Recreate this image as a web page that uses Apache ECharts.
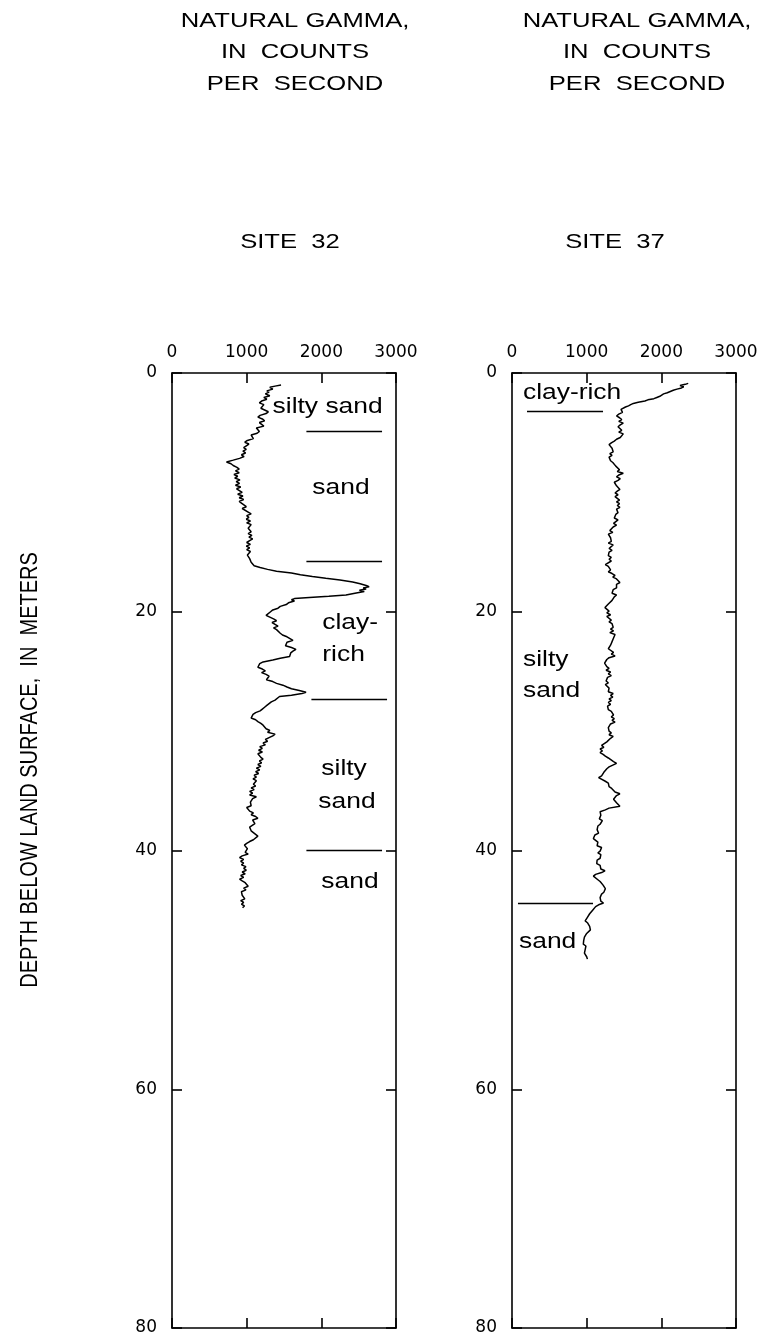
<!DOCTYPE html>
<html>
<head>
<meta charset="utf-8">
<script src="https://cdn.jsdelivr.net/npm/echarts@6/dist/echarts.min.js"></script>
<style>
  html, body { margin: 0; padding: 0; background: #fff; }
  #chart { width: 767px; height: 1342px; }
</style>
</head>
<body>
<div id="chart"></div>
<script>
// 坐标轴刻度
const gammaTicks = [0, 1000, 2000, 3000]
const depthTicks = [0, 20, 40, 60, 80]

// SITE 32 伽马测井 [depth m, counts per second]
const site32Log = [
  [1.0, 1460], [1.1, 1380], [1.2, 1310], [1.35, 1350], [1.5, 1270], [1.6, 1300], [1.75, 1250], [1.9, 1310], [2.05, 1230], [2.2, 1270],
  [2.35, 1200], [2.5, 1170], [2.65, 1230], [2.8, 1250], [2.95, 1190], [3.1, 1215], [3.25, 1290], [3.4, 1260], [3.55, 1180], [3.7, 1150],
  [3.85, 1210], [4.0, 1240], [4.15, 1170], [4.3, 1190], [4.45, 1230], [4.6, 1130], [4.75, 1110], [4.9, 1170], [5.05, 1140], [5.2, 1060],
  [5.35, 1040], [5.5, 1090], [5.65, 1010], [5.8, 975], [5.95, 1030], [6.1, 1010], [6.25, 960], [6.4, 995], [6.55, 950], [6.7, 985],
  [6.85, 930], [7.0, 965], [7.15, 905], [7.3, 820], [7.45, 730], [7.6, 790], [7.75, 820], [7.9, 870], [8.05, 900], [8.2, 850],
  [8.35, 900], [8.5, 830], [8.65, 880], [8.8, 840], [8.95, 910], [9.1, 860], [9.25, 905], [9.4, 850], [9.55, 920], [9.7, 865],
  [9.85, 890], [10.0, 940], [10.15, 880], [10.3, 950], [10.45, 900], [10.6, 960], [10.75, 900], [10.9, 930], [11.05, 905], [11.2, 995],
  [11.35, 940], [11.5, 960], [11.65, 1020], [11.8, 1060], [11.95, 1000], [12.1, 1030], [12.25, 995], [12.4, 1050], [12.55, 1000], [12.7, 1060],
  [12.85, 1085], [13.0, 1020], [13.15, 1000], [13.3, 1060], [13.45, 1020], [13.6, 1070], [13.75, 1030], [13.9, 1080], [14.05, 1040], [14.2, 1000],
  [14.35, 1050], [14.5, 995], [14.65, 1040], [14.8, 1000], [14.95, 1050], [15.1, 1060], [15.25, 1010], [15.4, 1000], [15.55, 1040], [15.7, 1020],
  [15.85, 1060], [16.0, 1070], [16.15, 1100], [16.3, 1180], [16.45, 1280], [16.6, 1400], [16.75, 1600], [16.9, 1720], [17.05, 1880], [17.2, 2060],
  [17.35, 2250], [17.5, 2420], [17.65, 2520], [17.8, 2600], [17.9, 2640], [18.0, 2560], [18.1, 2600], [18.2, 2510], [18.3, 2575], [18.45, 2450],
  [18.6, 2330], [18.7, 2100], [18.8, 1840], [18.9, 1640], [19.0, 1600], [19.1, 1640], [19.25, 1560], [19.4, 1530], [19.55, 1450], [19.7, 1420],
  [19.85, 1350], [20.0, 1320], [20.15, 1300], [20.3, 1260], [20.45, 1270], [20.6, 1360], [20.75, 1400], [20.9, 1340], [21.05, 1380], [21.2, 1420],
  [21.35, 1360], [21.5, 1400], [21.65, 1375], [21.8, 1450], [21.95, 1480], [22.1, 1540], [22.25, 1580], [22.4, 1620], [22.55, 1540], [22.7, 1560],
  [22.85, 1520], [23.0, 1600], [23.15, 1660], [23.3, 1620], [23.45, 1590], [23.6, 1600], [23.75, 1575], [23.9, 1450], [24.05, 1350], [24.2, 1220],
  [24.35, 1175], [24.5, 1200], [24.65, 1150], [24.8, 1210], [24.95, 1250], [25.1, 1200], [25.25, 1260], [25.4, 1300], [25.55, 1280], [25.7, 1265],
  [25.85, 1350], [26.0, 1400], [26.15, 1485], [26.3, 1540], [26.45, 1600], [26.6, 1705], [26.75, 1795], [26.85, 1740], [27.0, 1600], [27.1, 1440],
  [27.25, 1420], [27.4, 1380], [27.55, 1330], [27.7, 1310], [27.85, 1270], [28.0, 1240], [28.15, 1210], [28.3, 1180], [28.45, 1120], [28.6, 1085],
  [28.75, 1100], [28.9, 1060], [29.05, 1120], [29.2, 1150], [29.35, 1190], [29.5, 1220], [29.65, 1200], [29.8, 1260], [29.95, 1310], [30.1, 1280],
  [30.25, 1380], [30.4, 1350], [30.55, 1300], [30.7, 1250], [30.85, 1280], [31.0, 1220], [31.15, 1250], [31.3, 1175], [31.45, 1210], [31.6, 1160],
  [31.75, 1210], [31.9, 1150], [32.05, 1130], [32.2, 1190], [32.35, 1220], [32.5, 1170], [32.65, 1200], [32.8, 1150], [32.95, 1190], [33.1, 1130],
  [33.25, 1175], [33.4, 1120], [33.55, 1160], [33.7, 1100], [33.85, 1130], [34.0, 1085], [34.15, 1130], [34.3, 1150], [34.45, 1090], [34.6, 1120],
  [34.75, 1060], [34.9, 1100], [35.05, 1040], [35.2, 1080], [35.35, 1040], [35.5, 1130], [35.65, 1080], [35.8, 1105], [35.95, 1050], [36.1, 1030],
  [36.25, 1060], [36.4, 1000], [36.55, 995], [36.7, 1040], [36.85, 1090], [37.0, 1060], [37.15, 1120], [37.3, 1150], [37.45, 1080], [37.6, 1060],
  [37.75, 1110], [37.9, 1100], [38.05, 1040], [38.2, 1020], [38.35, 1060], [38.5, 1090], [38.65, 1110], [38.8, 1150], [38.95, 1175], [39.1, 1090],
  [39.25, 1040], [39.4, 1000], [39.55, 970], [39.7, 950], [39.85, 1010], [40.0, 1030], [40.15, 980], [40.3, 1020], [40.45, 940], [40.6, 905],
  [40.75, 960], [40.9, 920], [41.05, 960], [41.2, 930], [41.35, 990], [41.5, 960], [41.65, 995], [41.8, 940], [41.95, 980], [42.1, 920],
  [42.25, 960], [42.4, 905], [42.55, 940], [42.7, 980], [42.85, 1000], [43.0, 1020], [43.15, 960], [43.3, 990], [43.45, 930], [43.6, 905],
  [43.75, 940], [43.9, 960], [44.05, 975], [44.2, 920], [44.35, 960], [44.5, 930], [44.65, 970], [44.8, 945]
]

// SITE 37 伽马测井 [depth m, counts per second]
const site37Log = [
  [0.87, 2360], [0.95, 2320], [1.05, 2250], [1.15, 2300], [1.25, 2270], [1.35, 2210], [1.45, 2160], [1.55, 2180], [1.65, 2080], [1.75, 2030],
  [1.85, 2050], [1.95, 1980], [2.05, 1940], [2.15, 1900], [2.25, 1820], [2.35, 1780], [2.45, 1690], [2.55, 1625], [2.65, 1590], [2.75, 1560],
  [2.85, 1520], [2.95, 1500], [3.05, 1460], [3.15, 1445], [3.3, 1480], [3.45, 1430], [3.6, 1400], [3.75, 1440], [3.9, 1470], [4.05, 1430],
  [4.2, 1490], [4.35, 1450], [4.5, 1420], [4.65, 1440], [4.8, 1470], [4.95, 1430], [5.1, 1490], [5.25, 1515], [5.4, 1450], [5.55, 1400],
  [5.7, 1370], [5.85, 1330], [6.0, 1300], [6.15, 1290], [6.3, 1340], [6.45, 1320], [6.6, 1355], [6.75, 1310], [6.9, 1340], [7.05, 1300],
  [7.2, 1290], [7.35, 1320], [7.5, 1350], [7.65, 1330], [7.8, 1390], [7.95, 1400], [8.1, 1440], [8.25, 1410], [8.4, 1490], [8.55, 1430],
  [8.7, 1400], [8.85, 1450], [9.0, 1420], [9.15, 1370], [9.3, 1355], [9.45, 1400], [9.6, 1380], [9.75, 1445], [9.9, 1410], [10.05, 1380],
  [10.2, 1420], [10.35, 1380], [10.5, 1400], [10.65, 1440], [10.8, 1400], [10.95, 1440], [11.1, 1410], [11.25, 1445], [11.4, 1400], [11.55, 1380],
  [11.7, 1420], [11.85, 1390], [12.0, 1400], [12.15, 1370], [12.3, 1420], [12.45, 1390], [12.6, 1360], [12.75, 1400], [12.9, 1355], [13.05, 1330],
  [13.2, 1310], [13.35, 1350], [13.5, 1290], [13.65, 1270], [13.8, 1320], [13.95, 1300], [14.1, 1330], [14.25, 1290], [14.4, 1355], [14.55, 1330],
  [14.7, 1300], [14.85, 1340], [15.0, 1300], [15.15, 1320], [15.3, 1290], [15.45, 1330], [15.6, 1300], [15.75, 1330], [15.9, 1310], [16.05, 1250],
  [16.2, 1290], [16.35, 1270], [16.5, 1320], [16.65, 1290], [16.8, 1340], [16.95, 1380], [17.1, 1350], [17.25, 1400], [17.4, 1380], [17.55, 1445],
  [17.7, 1400], [17.85, 1380], [18.0, 1400], [18.15, 1355], [18.3, 1380], [18.45, 1340], [18.6, 1400], [18.75, 1370], [18.9, 1380], [19.05, 1340],
  [19.2, 1320], [19.35, 1290], [19.5, 1310], [19.65, 1245], [19.8, 1260], [19.95, 1300], [20.1, 1270], [20.25, 1320], [20.4, 1270], [20.55, 1290],
  [20.7, 1330], [20.85, 1300], [21.0, 1340], [21.15, 1330], [21.3, 1355], [21.45, 1320], [21.6, 1360], [21.75, 1310], [21.9, 1380], [22.05, 1400],
  [22.2, 1360], [22.35, 1380], [22.5, 1340], [22.65, 1355], [22.8, 1320], [22.95, 1335], [23.1, 1290], [23.25, 1310], [23.4, 1360], [23.55, 1330],
  [23.7, 1380], [23.85, 1300], [24.0, 1270], [24.15, 1290], [24.3, 1240], [24.45, 1225], [24.6, 1270], [24.75, 1300], [24.9, 1260], [25.05, 1320],
  [25.2, 1290], [25.35, 1330], [25.5, 1280], [25.65, 1300], [25.8, 1260], [25.95, 1290], [26.1, 1250], [26.25, 1245], [26.4, 1300], [26.55, 1320],
  [26.7, 1290], [26.85, 1355], [27.0, 1320], [27.15, 1350], [27.3, 1300], [27.45, 1330], [27.6, 1290], [27.75, 1320], [27.9, 1280], [28.05, 1300],
  [28.2, 1290], [28.35, 1330], [28.5, 1310], [28.65, 1360], [28.8, 1330], [28.95, 1370], [29.1, 1340], [29.25, 1380], [29.4, 1320], [29.55, 1340],
  [29.7, 1290], [29.85, 1270], [30.0, 1300], [30.15, 1330], [30.3, 1300], [30.45, 1355], [30.6, 1320], [30.75, 1340], [30.9, 1270], [31.05, 1290],
  [31.2, 1200], [31.35, 1230], [31.5, 1180], [31.65, 1210], [31.8, 1180], [31.95, 1220], [32.1, 1250], [32.25, 1290], [32.4, 1310], [32.55, 1360],
  [32.7, 1400], [32.85, 1350], [33.0, 1300], [33.15, 1270], [33.3, 1290], [33.45, 1230], [33.6, 1220], [33.75, 1200], [33.9, 1160], [34.05, 1135],
  [34.2, 1250], [34.35, 1290], [34.5, 1270], [34.65, 1300], [34.8, 1335], [34.95, 1320], [35.1, 1380], [35.25, 1445], [35.4, 1400], [35.55, 1380],
  [35.7, 1360], [35.85, 1355], [36.0, 1400], [36.15, 1420], [36.3, 1445], [36.45, 1300], [36.6, 1250], [36.75, 1180], [36.9, 1155], [37.05, 1190],
  [37.2, 1200], [37.35, 1170], [37.5, 1210], [37.65, 1225], [37.8, 1180], [37.95, 1150], [38.1, 1170], [38.25, 1140], [38.4, 1130], [38.55, 1160],
  [38.7, 1110], [38.85, 1120], [39.0, 1090], [39.15, 1110], [39.3, 1150], [39.45, 1170], [39.6, 1140], [39.75, 1200], [39.9, 1225], [40.05, 1180],
  [40.2, 1150], [40.35, 1190], [40.5, 1170], [40.65, 1180], [40.8, 1140], [40.95, 1160], [41.1, 1135], [41.25, 1180], [41.4, 1200], [41.55, 1190],
  [41.7, 1245], [41.85, 1200], [42.0, 1120], [42.15, 1090], [42.3, 1110], [42.45, 1150], [42.6, 1180], [42.75, 1170], [42.9, 1220], [43.05, 1200],
  [43.2, 1250], [43.35, 1270], [43.5, 1230], [43.65, 1200], [43.8, 1220], [43.95, 1180], [44.1, 1200], [44.25, 1190], [44.4, 1225], [44.55, 1160],
  [44.7, 1120], [44.85, 1140], [45.0, 1080], [45.15, 1065], [45.3, 1040], [45.45, 1060], [45.6, 1010], [45.75, 1000], [45.9, 980], [46.05, 1010],
  [46.2, 1000], [46.35, 1040], [46.5, 1020], [46.65, 1050], [46.8, 1045], [46.95, 1000], [47.1, 1010], [47.25, 970], [47.4, 990], [47.55, 960],
  [47.7, 980], [47.85, 955], [48.0, 990], [48.15, 1010], [48.3, 980], [48.45, 1000], [48.6, 970], [48.75, 985], [48.9, 1000], [49.05, 1020], [49.1, 1010]
]

// 岩性分界线 [gamma 起点, gamma 终点, depth]
const site32Bounds = [[1800, 2813, 4.9], [1800, 2813, 15.75], [1867, 2880, 27.3], [1800, 2813, 40.0]]
const site37Bounds = [[201, 1219, 3.2], [80, 1085, 44.4]]

// 岩性标注 [gamma, depth, 文本]
const site32Notes = [[1347, 2.85, 'silty sand'], [1880, 9.6, 'sand'], [2013, 20.95, 'clay-'], [2013, 23.6, 'rich'],
  [2000, 33.15, 'silty'], [1960, 35.95, 'sand'], [2000, 42.65, 'sand']]
const site37Notes = [[147, 1.65, 'clay-rich'], [147, 24.0, 'silty'], [147, 26.65, 'sand'], [94, 47.65, 'sand']]

const panels = [
  { left: 172, titleX: 295, siteX: 290, site: 'SITE  32', log: site32Log, bounds: site32Bounds, notes: site32Notes },
  { left: 512, titleX: 637, siteX: 615, site: 'SITE  37', log: site37Log, bounds: site37Bounds, notes: site37Notes }
]

const black = '#000'
const sans = '"Liberation Sans", Arial, sans-serif'

function axisBase(gridIndex) {
  return {
    gridIndex,
    type: 'value',
    axisLine: { show: true, onZero: false, lineStyle: { color: black, width: 1.6 }},
    axisTick: { show: true, inside: true, length: 10, lineStyle: { color: black, width: 1.6 }},
    splitLine: { show: false }
  }
}

const tickLabel = { show: true, color: black, fontFamily: 'DejaVu Sans', fontSize: 17, formatter: v => String(v) }

const xAxis = []
const yAxis = []
panels.forEach((p, i) => {
  const xRange = { min: gammaTicks[0], max: gammaTicks[gammaTicks.length - 1], interval: gammaTicks[1] - gammaTicks[0] }
  const yRange = { inverse: true, min: depthTicks[0], max: depthTicks[depthTicks.length - 1], interval: depthTicks[1] - depthTicks[0] }
  xAxis.push(Object.assign(axisBase(i), xRange, { position: 'top', axisLabel: Object.assign({ margin: 12 }, tickLabel) }))
  xAxis.push(Object.assign(axisBase(i), xRange, { position: 'bottom', axisLabel: { show: false }}))
  yAxis.push(Object.assign(axisBase(i), yRange, { position: 'left', axisLabel: Object.assign({ margin: 15 }, tickLabel) }))
  yAxis.push(Object.assign(axisBase(i), yRange, { position: 'right', axisLabel: { show: false }}))
})

const series = panels.map((p, i) => ({
  type: 'line',
  xAxisIndex: i * 2,
  yAxisIndex: i * 2,
  data: p.log.map(d => [d[1], d[0]]),
  showSymbol: false,
  symbol: 'none',
  silent: true,
  lineStyle: { color: black, width: 1.5 },
  markLine: {
    silent: true,
    symbol: ['none', 'none'],
    label: { show: false },
    lineStyle: { color: black, type: 'solid', width: 1.3 },
    emphasis: { disabled: true },
    data: p.bounds.map(b => [{ coord: [b[0], b[2]] }, { coord: [b[1], b[2]] }])
  }
}))

function text(x, y, str, font, extra) {
  return Object.assign({
    type: 'text',
    x, y,
    silent: true,
    style: { text: str, font, fill: black, align: 'center', verticalAlign: 'middle', textAlign: 'center', textVerticalAlign: 'middle' }
  }, extra)
}

const chart = echarts.init(document.getElementById('chart'))
chart.setOption({
  animation: false,
  backgroundColor: '#fff',
  grid: panels.map(p => ({ left: p.left, top: 373, width: 224, height: 955 })),
  xAxis,
  yAxis,
  series
})

// 标题与标注
const graphics = []
panels.forEach((p, i) => {
  const titleFont = '21px ' + sans
  graphics.push(text(p.titleX, 21, 'NATURAL GAMMA,', titleFont, { scaleX: 1.22 }))
  graphics.push(text(p.titleX, 52.5, 'IN  COUNTS', titleFont, { scaleX: 1.22 }))
  graphics.push(text(p.titleX, 84, 'PER  SECOND', titleFont, { scaleX: 1.22 }))
  graphics.push(text(p.siteX, 242, p.site, titleFont, { scaleX: 1.22 }))
  p.notes.forEach(n => {
    const pt = chart.convertToPixel({ seriesIndex: i }, [n[0], n[1]])
    const g = text(pt[0], pt[1], n[2], '22px ' + sans, { scaleX: 1.2 })
    g.style.align = g.style.textAlign = 'left'
    graphics.push(g)
  })
})
graphics.push(text(30, 770, 'DEPTH BELOW LAND SURFACE,  IN  METERS', '20px ' + sans, { rotation: Math.PI / 2, scaleY: 1.22 }))

chart.setOption({ graphic: graphics })
</script>
</body>
</html>
